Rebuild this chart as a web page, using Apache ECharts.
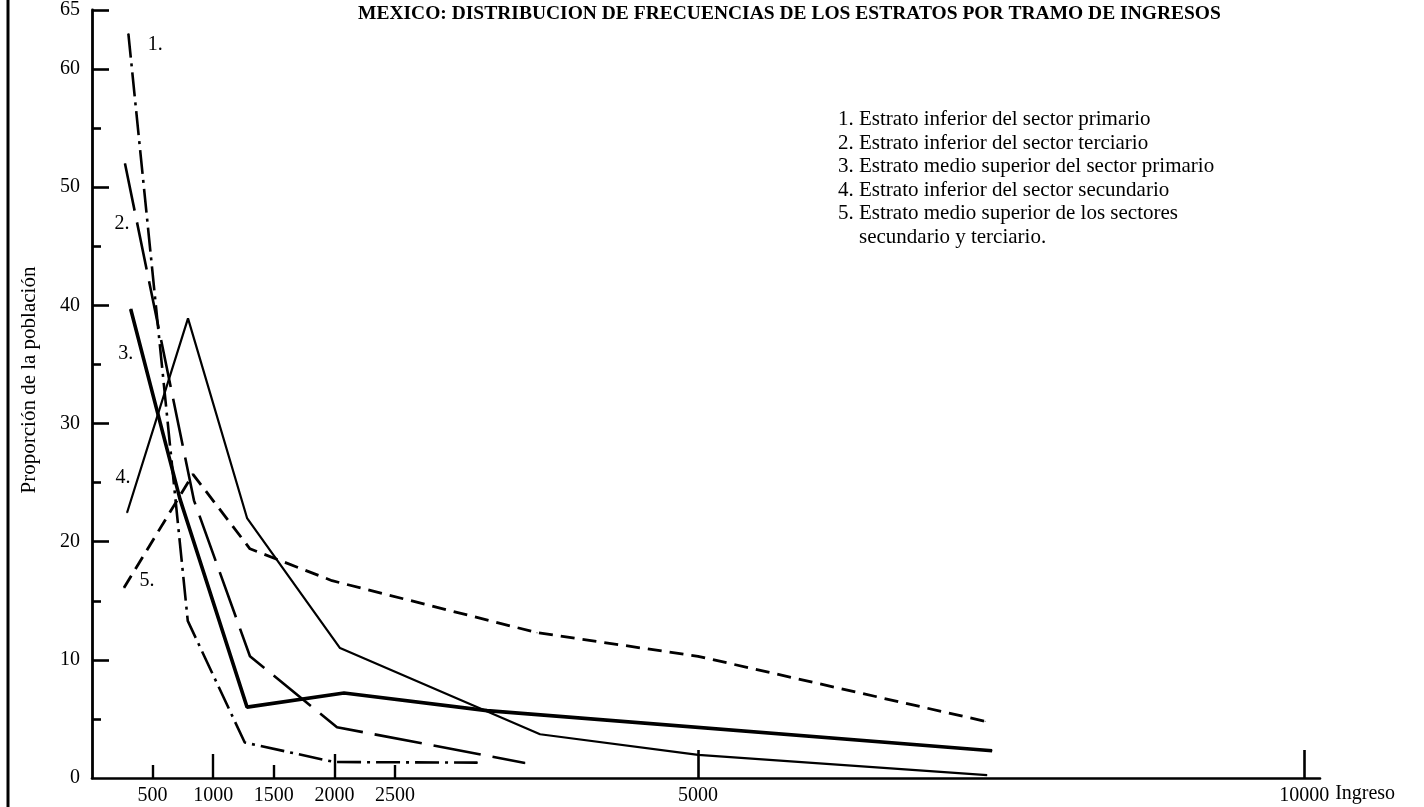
<!DOCTYPE html>
<html><head><meta charset="utf-8">
<script src="https://cdn.jsdelivr.net/npm/echarts@6/dist/echarts.min.js"></script>
<style>html,body{margin:0;padding:0;background:#fff}#c{width:1424px;height:807px}</style>
</head><body><div id="c"></div>
<script>
// ---- text ----
const titleText = 'MEXICO: DISTRIBUCION DE FRECUENCIAS DE LOS ESTRATOS POR TRAMO DE INGRESOS';
const yAxisName = 'Proporción de la población';
const xAxisName = 'Ingreso';
const legendLines = [
  '1. Estrato inferior del sector primario',
  '2. Estrato inferior del sector terciario',
  '3. Estrato medio superior del sector primario',
  '4. Estrato inferior del sector secundario',
  '5. Estrato medio superior de los sectores',
  '    secundario y terciario.'
];
const seriesTags = ['1.', '2.', '3.', '4.', '5.'];

// ---- ticks ----
const xTickLabels = [500, 1000, 1500, 2000, 2500, 5000, 10000];
const xShortTicks = [500, 1500, 2500];
const xMidTicks = [1000, 2000];
const xLongTicks = [5000, 10000];
const yTickLabels = [0, 10, 20, 30, 40, 50, 60, 65];
const yMajorTicks = [10, 20, 30, 40, 50, 60, 65];
const yMinorTicks = [5, 15, 25, 35, 45, 55];

// ---- data: [ingreso, proporción] ----
const s1 = [[300, 63.0], [790, 13.3], [1260, 3.0], [2000, 1.35], [3180, 1.3]];
const s2 = [[272, 52.0], [841, 23.5], [1303, 10.3], [2021, 4.3], [3572, 1.27]];
const s3 = [[319, 39.7], [726, 23.6], [1279, 6.0], [2079, 7.2], [3259, 5.7], [7425, 2.3]];
const s4 = [[289, 22.45], [792, 38.9], [1279, 22.0], [2046, 11.0], [3696, 3.7], [5000, 1.95], [7383, 0.25]];
const s5 = [[264, 16.1], [833, 25.7], [1303, 19.4], [1980, 16.7], [3671, 12.3], [5000, 10.3], [7367, 4.8]];

const FONT = 'Liberation Serif';
const styles = [
  { width: 2.6, type: [24, 6, 3, 6], tagOffset: [27, 11] },
  { width: 2.6, type: [48, 12], tagOffset: [-3, 60] },
  { width: 3.6, type: 'solid', tagOffset: [-5, 45] },
  { width: 2.2, type: 'solid', tagOffset: [-4, -35] },
  { width: 2.8, type: [14, 8], tagOffset: [23, -7] }
];
const allData = [s1, s2, s3, s4, s5];

const series = allData.map((d, i) => ({
  type: 'line',
  xAxisIndex: 0,
  yAxisIndex: 0,
  symbol: 'circle',
  symbolSize: 1,
  showSymbol: true,
  itemStyle: { color: '#000' },
  lineStyle: { color: '#000', width: styles[i].width, type: styles[i].type, cap: 'butt' },
  data: d.map((p, j) => j === 0 ? {
    value: p,
    label: {
      show: true, formatter: seriesTags[i], position: 'inside',
      offset: styles[i].tagOffset, color: '#000', fontFamily: FONT, fontSize: 20
    }
  } : { value: p }),
  z: 3
}));

const labelStyle = { color: '#000', fontFamily: FONT, fontSize: 20 };
const plain = v => String(v);

const chart = echarts.init(document.getElementById('c'), null, { renderer: 'canvas' });
chart.setOption({
  animation: false,
  backgroundColor: '#fff',
  title: [
    { text: titleText, left: 358, top: 4, padding: 0,
      textStyle: { fontFamily: FONT, fontSize: 19.5, fontWeight: 'bold', color: '#000' } },
    { text: legendLines.join('\n'), left: 838, top: 108, padding: 0,
      textStyle: { fontFamily: FONT, fontSize: 21, fontWeight: 'normal', lineHeight: 23.5, color: '#000' } }
  ],
  grid: { left: 92, right: 104, top: 8, bottom: 29, containLabel: false },
  xAxis: [
    { type: 'value', min: 0, max: 10130, position: 'bottom',
      name: xAxisName, nameLocation: 'end', nameGap: 15,
      nameTextStyle: { fontFamily: FONT, fontSize: 20, color: '#000', verticalAlign: 'top', lineHeight: 20, padding: [6, 0, 0, 0] },
      axisLine: { show: true, onZero: false, lineStyle: { color: '#000', width: 2.6 } },
      axisTick: { show: true, inside: true, length: 24, customValues: xMidTicks, lineStyle: { color: '#000', width: 2.4 } },
      axisLabel: { show: true, customValues: xTickLabels, margin: 8, formatter: plain, ...labelStyle },
      splitLine: { show: false } },
    { type: 'value', min: 0, max: 10130, position: 'bottom',
      axisLine: { show: false, onZero: false },
      axisTick: { show: true, inside: true, length: 28, customValues: xLongTicks, lineStyle: { color: '#000', width: 2.6 } },
      axisLabel: { show: false }, splitLine: { show: false } },
    { type: 'value', min: 0, max: 10130, position: 'bottom',
      axisLine: { show: false, onZero: false },
      axisTick: { show: true, inside: true, length: 13, customValues: xShortTicks, lineStyle: { color: '#000', width: 2.4 } },
      axisLabel: { show: false }, splitLine: { show: false } }
  ],
  yAxis: [
    { type: 'value', min: 0, max: 65, position: 'left',
      name: yAxisName, nameLocation: 'middle', nameGap: 52, nameRotate: 90,
      nameTextStyle: { fontFamily: FONT, fontSize: 21, color: '#000', padding: [0, 0, 0, 28] },
      axisLine: { show: true, onZero: false, lineStyle: { color: '#000', width: 2.8 } },
      axisTick: { show: true, inside: true, length: 17, customValues: yMajorTicks, lineStyle: { color: '#000', width: 2.6 } },
      axisLabel: { show: true, customValues: yTickLabels, margin: 12, formatter: plain, ...labelStyle },
      splitLine: { show: false } },
    { type: 'value', min: 0, max: 65, position: 'left',
      axisLine: { show: false, onZero: false },
      axisTick: { show: true, inside: true, length: 9, customValues: yMinorTicks, lineStyle: { color: '#000', width: 2.6 } },
      axisLabel: { show: false }, splitLine: { show: false } }
  ],
  graphic: [
    { type: 'line', shape: { x1: 8, y1: 0, x2: 8, y2: 807 }, style: { stroke: '#000', lineWidth: 3 } }
  ],
  series: series
});
</script>
</body></html>
